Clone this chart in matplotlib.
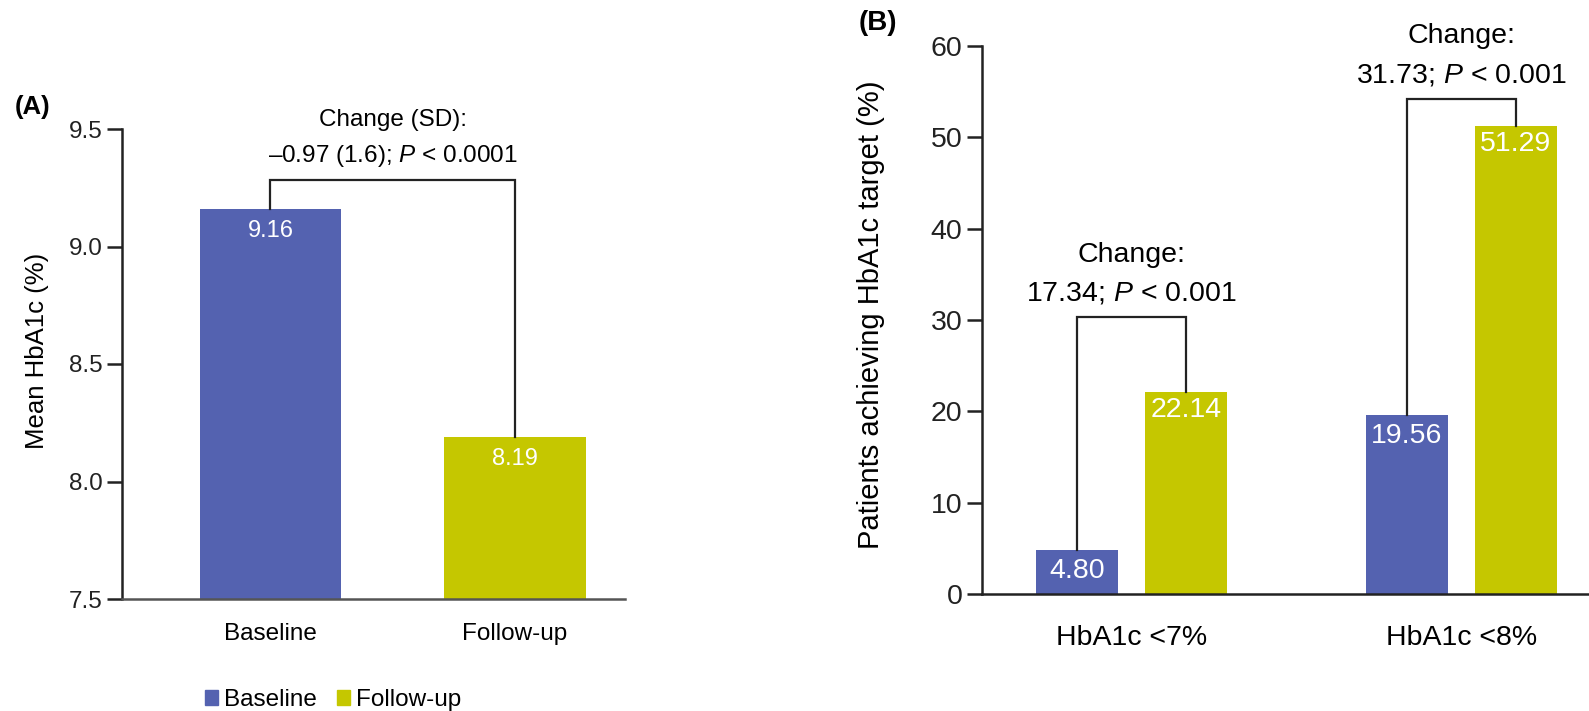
import matplotlib
matplotlib.use("Agg")
import matplotlib.pyplot as plt
from matplotlib.patches import Patch

plt.rcParams["font.family"] = ["Liberation Sans", "DejaVu Sans"]
plt.rcParams["mathtext.fontset"] = "custom"
plt.rcParams["mathtext.rm"] = "Liberation Sans"
plt.rcParams["mathtext.it"] = "Liberation Sans:italic"

# panel A data
a_categories = ["Baseline", "Follow-up"]
a_values = [9.16, 8.19]
a_change = ["Change (SD):", "\u20130.97 (1.6); $P$ < 0.0001"]
a_bracket = 9.285

# panel B data
b_categories = ["HbA1c <7%", "HbA1c <8%"]
b_baseline = [4.80, 19.56]
b_followup = [22.14, 51.29]
b_changes = [["Change:", "17.34; $P$ < 0.001"], ["Change:", "31.73; $P$ < 0.001"]]
b_brackets = [30.3, 54.2]

BLUE = "#5462B0"
OLIVE = "#C5C700"
INK = "#222222"

W, H = 1589, 711
fig = plt.figure(figsize=(W / 100, H / 100), dpi=100)


def style(ax, fs, pad):
    for s in ("top", "right"):
        ax.spines[s].set_visible(False)
    for s in ("left", "bottom"):
        ax.spines[s].set_linewidth(1.8)
        ax.spines[s].set_color(INK)
    ax.tick_params(axis="y", direction="out", length=11, width=1.8, colors=INK,
                   labelsize=fs, pad=3)
    ax.tick_params(axis="x", length=0, labelsize=fs, pad=pad)


def bracket(ax, x0, x1, y, top0, top1, lines, fs, offs):
    ax.plot([x0, x0, x1, x1], [top0, y, y, top1], color=INK, lw=1.6,
            clip_on=False, solid_joinstyle="miter")
    for txt, o in zip(lines, offs):
        ax.annotate(txt, xy=((x0 + x1) / 2, y), xytext=(0, o),
                    textcoords="offset points", ha="center", va="center",
                    fontsize=fs, annotation_clip=False)


def inner_label(ax, x, v, txt, fs, off):
    ax.annotate(txt, xy=(x, v), xytext=(0, off), textcoords="offset points",
                ha="center", va="center", color="white", fontsize=fs)


# ---- panel A
axA = fig.add_axes([122 / W, 1 - 599 / H, (625 - 122) / W, (599 - 129) / H])
xa = [0, 1]
axA.bar(xa, [v - 7.5 for v in a_values], bottom=7.5, width=0.577,
        color=[BLUE, OLIVE])
axA.set_xlim(-0.607, 1.45)
axA.set_ylim(7.5, 9.5)
axA.set_yticks([7.5, 8.0, 8.5, 9.0, 9.5])
axA.set_yticklabels(["7.5", "8.0", "8.5", "9.0", "9.5"])
axA.set_xticks(xa)
axA.set_xticklabels(a_categories)
style(axA, 17.5, 17.5)
axA.spines["bottom"].set_color("#555555")
for x, v in zip(xa, a_values):
    inner_label(axA, x, v, f"{v:.2f}", 17, -16)
bracket(axA, 0, 1, a_bracket, a_values[0], a_values[1], a_change, 17.5, (42.5, 16.8))
axA.set_ylabel("Mean HbA1c (%)", fontsize=18.5)
axA.yaxis.set_label_coords(49 / W, 1 - 351 / H, transform=fig.transFigure)
fig.text(15 / W, 1 - 107 / H, "(A)", fontsize=18.5, fontweight="bold",
         va="center", ha="left")

# ---- panel B
axB = fig.add_axes([982 / W, 1 - 594 / H, (W - 982) / W, (594 - 46) / H])
xb = [0, 1]
off, bw = 0.1654, 0.249
axB.bar([x - off for x in xb], b_baseline, width=bw, color=BLUE)
axB.bar([x + off for x in xb], b_followup, width=bw, color=OLIVE)
axB.set_xlim(-0.4537, 1.388)
axB.set_ylim(0, 60)
axB.set_yticks(range(0, 61, 10))
axB.set_xticks(xb)
axB.set_xticklabels(b_categories)
style(axB, 20.5, 22)
for x, b, f in zip(xb, b_baseline, b_followup):
    inner_label(axB, x - off, b, f"{b:.2f}", 20.5, -15)
    inner_label(axB, x + off, f, f"{f:.2f}", 20.5, -13)
for x, b, f, lab, y in zip(xb, b_baseline, b_followup, b_changes, b_brackets):
    bracket(axB, x - off, x + off, y, b, f, lab, 20.5, (45, 17))
axB.set_ylabel("Patients achieving HbA1c target (%)", fontsize=21)
axB.yaxis.set_label_coords(885 / W, 1 - 315 / H, transform=fig.transFigure)
fig.text(859 / W, 1 - 23 / H, "(B)", fontsize=20, fontweight="bold",
         va="center", ha="left")

handles = [Patch(color=BLUE, label="Baseline"), Patch(color=OLIVE, label="Follow-up")]
fig.legend(handles=handles, loc="center left", bbox_to_anchor=(183 / W, 11 / H),
           ncol=2, frameon=False, fontsize=17.5, handlelength=0.55, handleheight=0.55,
           handletextpad=0.25, columnspacing=0.8)

fig.savefig("out.png", dpi=100)
